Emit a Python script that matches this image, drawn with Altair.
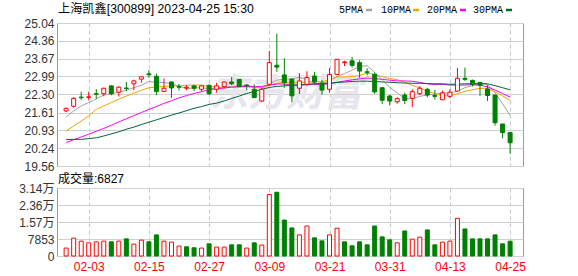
import json
import altair as alt
import pandas as pd

# ---------------- data ----------------
dates = ["01-31", "02-01", "02-02", "02-03", "02-06", "02-07", "02-08", "02-09", "02-10", "02-13",
         "02-14", "02-15", "02-16", "02-17", "02-20", "02-21", "02-22", "02-23", "02-24", "02-27",
         "02-28", "03-01", "03-02", "03-03", "03-06", "03-07", "03-08", "03-09", "03-10", "03-13",
         "03-14", "03-15", "03-16", "03-17", "03-20", "03-21", "03-22", "03-23", "03-24", "03-27",
         "03-28", "03-29", "03-30", "03-31", "04-03", "04-04", "04-06", "04-07", "04-10", "04-11",
         "04-12", "04-13", "04-14", "04-17", "04-18", "04-19", "04-20", "04-21", "04-24", "04-25"]
tick_dates = ["02-03", "02-15", "02-27", "03-09", "03-21", "03-31", "04-13", "04-25"]

opens = [21.67, 21.85, 22.20, 22.19, 22.33, 22.33, 22.63, 22.39, 22.55, 22.71,
         22.89, 23.09, 23.00, 22.42, 22.78, 22.60, 22.55, 22.63, 22.50, 22.65,
         22.50, 22.60, 22.78, 22.88, 22.66, 22.50, 22.05, 22.69, 23.42, 23.05,
         22.89, 22.54, 22.69, 23.01, 22.74, 22.50, 23.07, 23.52, 23.59, 23.52,
         23.17, 23.07, 22.56, 22.24, 22.02, 22.28, 22.15, 22.33, 22.50, 22.26,
         22.10, 22.23, 22.43, 22.92, 22.84, 22.76, 22.51, 22.28, 21.17, 20.84]
highs = [21.79, 22.20, 22.41, 22.41, 22.51, 22.56, 22.65, 22.62, 22.78, 22.87,
         22.99, 23.23, 23.10, 22.92, 22.80, 22.71, 22.66, 22.66, 22.66, 22.69,
         22.75, 22.79, 22.97, 22.89, 22.71, 22.69, 22.56, 23.97, 24.63, 23.69,
         22.91, 23.12, 23.19, 23.17, 22.86, 23.31, 23.66, 23.59, 23.74, 23.61,
         23.30, 23.14, 22.57, 22.28, 22.20, 22.37, 22.50, 22.63, 22.56, 22.47,
         22.45, 22.50, 23.32, 23.33, 22.87, 22.79, 22.66, 22.28, 21.17, 20.84]
lows = [21.62, 21.79, 22.08, 22.08, 22.13, 22.23, 22.27, 22.22, 22.43, 22.46,
        22.75, 22.94, 22.28, 22.41, 22.17, 22.45, 22.46, 22.43, 22.41, 22.28,
        22.37, 22.56, 22.66, 22.59, 22.46, 22.17, 22.02, 22.63, 23.17, 22.56,
        22.00, 22.32, 22.63, 22.69, 22.29, 22.37, 23.04, 23.39, 23.33, 22.94,
        23.03, 22.33, 21.93, 21.88, 21.95, 21.93, 21.82, 22.28, 22.20, 22.11,
        22.09, 22.15, 22.42, 22.82, 22.61, 22.24, 22.05, 21.11, 20.62, 20.03]
closes = [21.77, 22.15, 22.18, 22.21, 22.31, 22.54, 22.33, 22.58, 22.53, 22.82,
          22.98, 23.06, 22.41, 22.54, 22.55, 22.58, 22.58, 22.54, 22.63, 22.33,
          22.63, 22.78, 22.71, 22.60, 22.63, 22.18, 22.50, 23.52, 23.35, 22.75,
          22.25, 22.82, 22.95, 22.78, 22.47, 23.07, 23.65, 23.55, 23.42, 23.20,
          23.15, 22.40, 22.08, 22.05, 22.14, 22.07, 22.41, 22.54, 22.28, 22.23,
          22.36, 22.39, 22.92, 22.88, 22.69, 22.65, 22.26, 21.22, 20.84, 20.45]

volumes = [3660, 8240, 6870, 6090, 6550, 6870, 6550, 6870, 7920, 5500,
           7330, 6550, 9750, 6870, 6410, 4580, 4260, 3800, 3660, 5630,
           4120, 4120, 5170, 5170, 3660, 6090, 5040, 28390, 29440, 16620,
           12960, 9750, 13870, 8380, 7000, 9750, 12820, 6550, 4720, 6550,
           5170, 13870, 8840, 7460, 6090, 11580, 7780, 8700, 12040, 5170,
           6410, 6870, 17400, 12500, 7920, 7920, 7920, 9750, 5630, 6827]
vol_colors = list("rrrrrrgrgr" "rggrrrggrg" "rrggrgrrgg" "grrggrrggg" "ggggrgrrgg" "rrrggggggg")

ma5 = [21.44, 21.67, 21.86, 21.99, 22.13, 22.28, 22.32, 22.40, 22.46, 22.56,
       22.65, 22.80, 22.76, 22.76, 22.71, 22.62, 22.52, 22.55, 22.56, 22.52,
       22.55, 22.58, 22.62, 22.61, 22.67, 22.58, 22.55, 22.71, 22.85, 22.89,
       22.90, 22.96, 22.85, 22.74, 22.68, 22.84, 22.99, 23.10, 23.23, 23.38,
       23.40, 23.15, 22.86, 22.58, 22.36, 22.14, 22.14, 22.23, 22.28, 22.31,
       22.36, 22.36, 22.43, 22.56, 22.64, 22.71, 22.69, 22.36, 21.94, 21.50]
ma10 = [20.90, 21.09, 21.28, 21.48, 21.73, 21.86, 21.99, 22.12, 22.24, 22.35,
        22.46, 22.56, 22.58, 22.61, 22.63, 22.63, 22.66, 22.66, 22.66, 22.61,
        22.58, 22.55, 22.58, 22.59, 22.60, 22.56, 22.56, 22.66, 22.73, 22.78,
        22.74, 22.75, 22.78, 22.80, 22.78, 22.87, 22.97, 22.97, 22.99, 23.03,
        23.12, 23.07, 22.98, 22.91, 22.87, 22.77, 22.65, 22.55, 22.43, 22.34,
        22.25, 22.25, 22.33, 22.42, 22.48, 22.54, 22.53, 22.40, 22.25, 22.07]
ma20 = [20.46, 20.57, 20.67, 20.78, 20.89, 21.00, 21.12, 21.25, 21.37, 21.49,
        21.61, 21.73, 21.84, 21.96, 22.06, 22.17, 22.26, 22.34, 22.41, 22.48,
        22.52, 22.55, 22.58, 22.60, 22.61, 22.60, 22.61, 22.66, 22.70, 22.70,
        22.66, 22.65, 22.68, 22.69, 22.69, 22.71, 22.77, 22.82, 22.86, 22.90,
        22.93, 22.91, 22.88, 22.85, 22.82, 22.82, 22.81, 22.76, 22.71, 22.68,
        22.69, 22.66, 22.66, 22.66, 22.68, 22.66, 22.59, 22.47, 22.34, 22.20]
ma30 = [20.58, 20.58, 20.58, 20.61, 20.64, 20.71, 20.79, 20.87, 20.97, 21.05,
        21.15, 21.24, 21.33, 21.42, 21.51, 21.59, 21.68, 21.77, 21.84, 21.92,
        21.97, 22.05, 22.15, 22.24, 22.34, 22.42, 22.50, 22.57, 22.61, 22.63,
        22.65, 22.67, 22.69, 22.71, 22.72, 22.73, 22.76, 22.78, 22.80, 22.81,
        22.81, 22.80, 22.78, 22.77, 22.75, 22.74, 22.73, 22.73, 22.72, 22.71,
        22.71, 22.69, 22.70, 22.71, 22.71, 22.72, 22.71, 22.64, 22.56, 22.48]

price_ticks = [19.56, 20.24, 20.93, 21.61, 22.30, 22.99, 23.67, 24.36, 25.04]
vol_ticks = [0, 7853, 15706, 23559, 31412]

title_text = "上海凯鑫[300899] 2023-04-25 15:30"
ma_names = ["5PMA", "10PMA", "20PMA", "30PMA"]
ma_colors = ["#a3a3a3", "#f5a300", "#ff00ff", "#006633"]
UP, DOWN = "#ff0000", "#008000"

# ---------------- tables ----------------
n = len(dates)
idx = list(range(n))
candles = pd.DataFrame({"idx": idx, "date": dates, "open": opens, "high": highs,
                        "low": lows, "close": closes})
candles["dir"] = ["up" if c >= o else "down" for o, c in zip(opens, closes)]
vol_df = pd.DataFrame({"idx": idx, "vol": volumes,
                       "dir": ["up" if c == "r" else "down" for c in vol_colors]})
ma_df = pd.concat([pd.DataFrame({"idx": idx, "value": vals, "series": name})
                   for name, vals in zip(ma_names, [ma5, ma10, ma20, ma30])])
tick_idx = [dates.index(d) for d in tick_dates]

FONT = "Liberation Sans"
CJK = "Liberation Sans, Noto Sans CJK SC"
MONO = "Liberation Mono"
PW, PH, VH = 466, 143, 68

fill_scale = alt.Scale(domain=["up", "down"], range=["#ffffff", DOWN])
stroke_scale = alt.Scale(domain=["up", "down"], range=[UP, DOWN])
x_scale = alt.Scale(domain=[-0.55, 60.05], nice=False, zero=False)
y_scale = alt.Scale(domain=[19.56, 25.04], nice=False, zero=False)

x_axis_top = alt.Axis(values=tick_idx, labels=False, ticks=False, domain=False, grid=True,
                      gridDash=[4, 3], gridColor="#c8c8c8", title=None)
y_axis = alt.Axis(values=price_ticks, format=".2f", grid=True, gridColor="#d0d0d0",
                  tickSize=0, labelPadding=3, domain=False, title=None, labelOverlap=False,
                  labelFont=FONT, labelFontSize=12, labelColor="#333333")

X = alt.X("idx:Q", scale=x_scale, axis=x_axis_top)

watermark = alt.Chart(pd.DataFrame({"t": ["东方财富"]})).mark_text(
    font="Noto Sans CJK SC", fontSize=38, fontWeight="bold", fontStyle="italic",
    color="#e6e6ec", align="center", baseline="middle"
).encode(x=alt.value(229), y=alt.value(72), text="t:N")

lines = alt.Chart(ma_df).mark_line(strokeWidth=1).encode(
    x=X,
    y=alt.Y("value:Q", scale=y_scale, axis=y_axis),
    color=alt.Color("series:N", scale=alt.Scale(domain=ma_names, range=ma_colors), legend=None),
)

wicks = alt.Chart(candles).mark_rule(strokeWidth=1).encode(
    x=X,
    y=alt.Y("low:Q", scale=y_scale, axis=y_axis),
    y2="high:Q",
    stroke=alt.Stroke("dir:N", scale=stroke_scale, legend=None),
)

bodies = alt.Chart(candles).mark_bar(size=4, strokeWidth=1).encode(
    x=X,
    y=alt.Y("open:Q", scale=y_scale, axis=y_axis),
    y2="close:Q",
    fill=alt.Fill("dir:N", scale=fill_scale, legend=None),
    stroke=alt.Stroke("dir:N", scale=stroke_scale, legend=None),
)

one = pd.DataFrame({"t": [title_text]})
title_layer = alt.Chart(one).mark_text(
    font=CJK, fontSize=12.2, align="left", baseline="alphabetic", color="#000000"
).encode(x=alt.value(1), y=alt.value(-10), text="t:N")

legend_layers = []
legend_x = [282, 324, 370, 416]
legend_sym = [(309, 315), (356, 362), (403, 409), (449, 455)]
for name, col, lx, (s0, s1) in zip(ma_names, ma_colors, legend_x, legend_sym):
    legend_layers.append(
        alt.Chart(pd.DataFrame({"t": [name]})).mark_text(
            font=MONO, fontSize=10, align="left", baseline="alphabetic", color="#000000"
        ).encode(x=alt.value(lx), y=alt.value(-10), text="t:N")
    )
    legend_layers.append(
        alt.Chart(pd.DataFrame({"t": [name]})).mark_rule(strokeWidth=2.5, color=col).encode(
            x=alt.value(s0), x2=alt.value(s1), y=alt.value(-13)
        )
    )

top = alt.layer(watermark, lines, wicks, bodies, title_layer, *legend_layers).properties(
    width=PW, height=PH
)

# ---------------- volume panel ----------------
dates_js = json.dumps(dates)
x_axis_bot = alt.Axis(values=tick_idx, labelExpr=f"{dates_js}[datum.value]", ticks=False,
                      domain=False, grid=True, gridDash=[4, 3], gridColor="#c8c8c8",
                      title=None, labelFlush=False, labelPadding=5, labelColor="#ff0000",
                      labelFont=FONT, labelFontSize=12, labelOverlap=False)
vol_axis = alt.Axis(values=vol_ticks,
                    labelExpr="datum.value >= 10000 ? format(datum.value / 10000, '.2f') + '万' : format(datum.value, 'd')",
                    grid=True, gridColor="#d0d0d0", tickSize=0, labelPadding=3, domain=False,
                    title=None, labelOverlap=False, labelFont=CJK, labelFontSize=12,
                    labelColor="#333333")

vol_bars = alt.Chart(vol_df).mark_bar(size=4, strokeWidth=1).encode(
    x=alt.X("idx:Q", scale=x_scale, axis=x_axis_bot),
    y=alt.Y("vol:Q", scale=alt.Scale(domain=[0, 31412], nice=False), axis=vol_axis),
    fill=alt.Fill("dir:N", scale=fill_scale, legend=None),
    stroke=alt.Stroke("dir:N", scale=stroke_scale, legend=None),
)
vol_label = alt.Chart(pd.DataFrame({"t": [f"成交量:{volumes[-1]}"]})).mark_text(
    font=CJK, fontSize=12, align="left", baseline="alphabetic", color="#000000"
).encode(x=alt.value(1), y=alt.value(-5.5), text="t:N")

bottom = alt.layer(vol_bars, vol_label).properties(width=PW, height=VH)

chart = alt.vconcat(top, bottom, spacing=22, bounds="flush").resolve_scale(
    x="independent", y="independent"
).properties(
    padding={"left": 18, "top": 2, "right": 5, "bottom": 4},
    background="#ffffff",
).configure_view(stroke="#999999", strokeWidth=1)

chart.save("out.html", embed_options={"renderer": "svg", "actions": False})
